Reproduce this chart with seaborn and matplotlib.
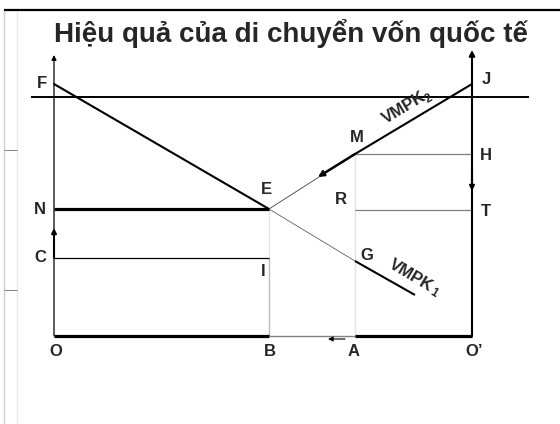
import matplotlib
matplotlib.use("Agg")
import matplotlib.pyplot as plt
import seaborn as sns
import pandas as pd

sns.set_style("white")
plt.rcParams['font.family'] = ['Liberation Sans', 'DejaVu Sans']

# Diagram key points (in figure pixel-space units)
title = "Hiệu quả của di chuyển vốn quốc tế"
O = (54, 336); Op = (472, 336)
F = (54, 84); J = (472, 84)
E = (269, 209); G = (355, 261); K1_end = (415, 295)
M = (355, 154); H = (472, 154)
R = (355, 210); T = (472, 210)
N = (54, 209); C = (54, 258); I = (269, 258)
B = (269, 336); A = (355, 336)
ref_y = 97

vmpk1_x = [F[0], E[0]]; vmpk1_y = [F[1], E[1]]
vmpk2_x = [J[0], M[0]]; vmpk2_y = [J[1], M[1]]

labels = ["F", "J", "N", "C", "O", "B", "A", "O’", "E", "M", "H", "R", "T", "G", "I"]
label_x = [42, 486, 40, 40, 56, 270, 354, 474, 266, 357, 486, 341, 486, 367, 263]
label_y = [84, 80, 209, 258, 352, 352, 352, 352, 190, 137, 156, 199, 212, 255, 272]

curve_names = ["VMPK", "VMPK"]
curve_subs = ["2", "1"]
curve_xy = [(404, 108), (411, 276)]
curve_sub_xy = [(429, 99), (434, 293)]
curve_rot = [31, -31]

fig = plt.figure(figsize=(5.6, 4.24), dpi=100)
ax = fig.add_axes([0, 0, 1, 1])
ax.set_xlim(0, 560)
ax.set_ylim(424, 0)
ax.axis("off")

def seg(p, q, lw=1.0, color="black"):
    d = pd.DataFrame({"x": [p[0], q[0]], "y": [p[1], q[1]]})
    sns.lineplot(data=d, x="x", y="y", ax=ax, sort=False, color=color, lw=lw,
                 solid_capstyle="butt")

# frame decorations
seg((4, 10), (4, 424), lw=2.2)
seg((4, 9.5), (560, 9.5), lw=1.6)
seg((17, 10), (17, 424), lw=0.8, color="#9a9a9a")
seg((4, 150), (17, 150), lw=0.7, color="#808080")
seg((4, 290), (17, 290), lw=0.7, color="#808080")

ax.text(291, 33, title, ha="center", va="center", fontsize=20, fontweight="bold")

# reference horizontal line
seg((31, ref_y), (529, ref_y), lw=1.4)

# axes
ax.annotate("", xy=(O[0], 55), xytext=O,
            arrowprops=dict(arrowstyle="-|>", lw=0.9, color="black", mutation_scale=7, shrinkA=0, shrinkB=0))
ax.annotate("", xy=(Op[0], 50), xytext=Op,
            arrowprops=dict(arrowstyle="-|>", lw=1.5, color="black", mutation_scale=8, shrinkA=0, shrinkB=0))

# rectangles / helper lines
seg(C, I, lw=0.9)
seg(I, B, lw=0.9)
seg(E, (E[0], B[1]), lw=0.8, color="#808080")
seg(M, A, lw=0.9, color="#707070")
seg(M, H, lw=0.9, color="#808080")
seg(R, T, lw=0.9, color="#808080")
seg(N, E, lw=2.3)

# bottom axis
seg(O, B, lw=2.3)
seg(B, A, lw=1.0, color="#808080")
seg(A, Op, lw=2.3)

# VMPK1
sns.lineplot(x=vmpk1_x, y=vmpk1_y, ax=ax, sort=False, color="black", lw=1.5)
seg(E, G, lw=0.6, color="#606060")
seg(G, K1_end, lw=1.5)
# VMPK2
sns.lineplot(x=vmpk2_x, y=vmpk2_y, ax=ax, sort=False, color="black", lw=1.5)
seg(M, E, lw=0.6, color="#404040")

# movement arrows
ax.annotate("", xy=(318, 177), xytext=M,
            arrowprops=dict(arrowstyle="-|>", lw=1.8, color="black", mutation_scale=8, shrinkA=0, shrinkB=0))
ax.annotate("", xy=(472, 191), xytext=(472, 170),
            arrowprops=dict(arrowstyle="-|>", lw=1.5, color="black", mutation_scale=7, shrinkA=0, shrinkB=0))
ax.annotate("", xy=(54, 228), xytext=(54, 258),
            arrowprops=dict(arrowstyle="-|>", lw=1.5, color="black", mutation_scale=7, shrinkA=0, shrinkB=0))
ax.annotate("", xy=(328, 339), xytext=(345, 339),
            arrowprops=dict(arrowstyle="-|>", lw=0.8, color="black", mutation_scale=7, shrinkA=0, shrinkB=0))

for t, x, y in zip(labels, label_x, label_y):
    ax.text(x, y, t, ha="center", va="center", fontsize=12, fontweight="bold")

for name, sub, (x, y), (sx, sy), rot in zip(curve_names, curve_subs, curve_xy, curve_sub_xy, curve_rot):
    ax.text(x, y, name, ha="center", va="center", fontsize=12, fontweight="bold",
            rotation=rot, rotation_mode="anchor")
    ax.text(sx, sy, sub, ha="center", va="center", fontsize=8.5, fontweight="bold",
            rotation=rot, rotation_mode="anchor")

fig.savefig("out.png", dpi=100)
